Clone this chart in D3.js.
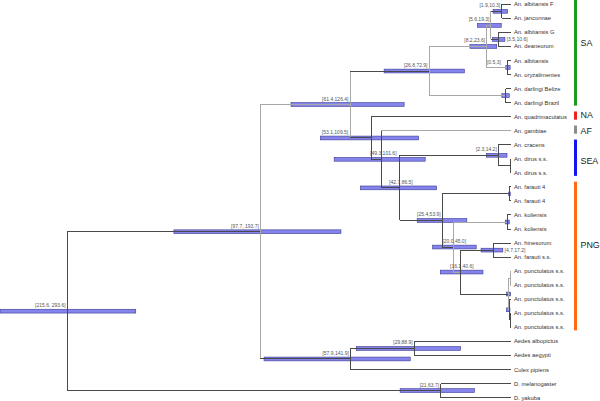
<!DOCTYPE html>
<html><head><meta charset="utf-8">
<script src="https://cdn.jsdelivr.net/npm/d3@7"></script>
<style>html,body{margin:0;padding:0;background:#fff;} svg{display:block;font-family:"Liberation Sans",Arial,sans-serif;}</style>
</head><body><svg id="c" width="600" height="401"></svg>
<script>
// ---- DATA ----
const tipLabels = [
  "An. albitansis F","An. janconnae","An. albitansis G","An. deaneorum","An. albitansis",
  "An. oryzalimentes","An. darlingi Belize","An. darlingi Brazil","An. quadrimaculatus","An. gambiae",
  "An. cracens","An. dirus s.s.","An. dirus s.s.","An. farauti 4","An. farauti 4",
  "An. koliensis","An. koliensis","An. hinesorum","An. farauti s.s.","An. punctulatus s.s.",
  "An. punctulatus s.s.","An. punctulatus s.s.","An. punctulatus s.s.","An. punctulatus s.s.","Aedes albopictus",
  "Aedes aegypti","Culex pipiens","D. melanogaster","D. yakuba"
];
// internal nodes: id, children (node ids or tip indices), age (My), 95% HPD [lo,hi], label
const nodeIds      = ["root","insect","anoph","SA","n82","n56","n19","n35","nalb","darl","n53","n49","n42","SEA","dirus","PNG","far4","n20","kol","n16","n47","punc","p12","p345","p45","culic","aedes","dros"];
const nodeChildren = [["insect","dros"],["anoph","culic"],["SA","n53"],["n82","darl"],["n56","nalb"],["n19","n35"],[0,1],[2,3],[4,5],[6,7],
  [8,"n49"],[9,"n42"],["SEA","PNG"],[10,"dirus"],[11,12],["far4","n20"],[13,14],["kol","n16"],[15,16],["n47","punc"],[17,18],
  ["p12","p345"],[19,20],[21,"p45"],[22,23],["aedes",26],[24,25],[27,28]];
const nodeAges     = [255,144,92.5,47.1,14.0,11.5,5.3,7.3,2.1,3.0,80.3,74.5,63.8,7.3,0.2,39.5,1.0,33.2,2.1,29.1,10.2,1.2,0.3,0.8,0.3,92.3,55.6,40.4];
const nodeHPD      = [[215.6,293.6],[97.7,193.7],[61.4,126.4],[26.8,72.9],[8.2,23.6],[5.6,19.3],[1.9,10.3],[3.5,10.6],[0.5,3],[1.0,5.3],
  [53.1,109.5],[49.3,101.6],[42.7,86.5],[2.3,14.2],null,[25.4,53.9],[0.7,1.3],[20.0,45.0],[1.0,3.3],[16.1,40.6],[4.7,17.2],
  [0.2,2.5],null,[0.6,2.5],null,[57.9,141.9],[29,88.9],[21,63.7]];
const nodeLabels   = ["[215.6, 293.6]","[97.7, 193.7]","[61.4,126.4]","[26.8,72.9]","[8.2,23.6]","[5.6,19.3]","[1.9,10.3]","[3.5,10.6]","[0.5,3]","",
  "[53.1,109.5]","[49.3,101.6]","[42.7,86.5]","[2.3,14.2]","","[25.4,53.9]","","[20.0,45.0]","","[16.1,40.6]","[4.7,17.2]",
  "","","","","[57.9,141.9]","[29,88.9]","[21,63.7]"];
// branches with low posterior support (drawn in light grey)
const lowSupportStems = ["anoph","darl","n82","n56","nalb","t9","kol","n16","p12","p345","t19","t20"];
const lowSupportVerticals = ["insect","anoph","SA","n82","n56","n20","punc","p12"];
// geographic groups
const groupNames   = ["SA","NA","AF","SEA","PNG"];
const groupFirst   = [0,8,9,10,13];
const groupLast    = [7,8,9,12,23];
const groupLabelAt = [2.75,7.9,9,11.15,17.1];
const groupColors  = ["#1e9a1e","#ee2020","#8c8c8c","#1414ee","#ff6a12"];

// ---- LAYOUT ----
const labelPlacement = {
  n53:{anchor:"end",dx:-23}, n49:{anchor:"middle",dx:2}, n42:{anchor:"middle",dx:1},
  n20:{anchor:"middle",dx:1}, n16:{anchor:"middle",dx:1.5}, nalb:{anchor:"end",dx:-6.5},
  n35:{anchor:"right"}, n47:{anchor:"right"}
};
const svg = d3.select("#c");
const x = d3.scaleLinear().domain([293.6, 0]).range([0, 511]);
const y = d3.scaleLinear().domain([0, tipLabels.length - 1]).range([4.3, 397.6]);

const nodes = {};
nodeIds.forEach((id,i)=>{ nodes[id] = {id, children:nodeChildren[i], age:nodeAges[i], hpd:nodeHPD[i], label:nodeLabels[i]}; });
function childKey(c){ return typeof c === "number" ? "t"+c : c; }
function pos(c){
  if (typeof c === "number") return {x:x(0), y:y(c)};
  const n = nodes[c];
  if (n.y === undefined){
    const ys = n.children.map(k=>pos(k).y);
    n.y = (d3.min(ys)+d3.max(ys))/2;
    n.x = x(n.age);
  }
  return {x:n.x, y:n.y};
}
nodeIds.forEach(id=>pos(id));

const DARK = "#4a4a4a", LIGHT = "#a8a8a8";
const gBars = svg.append("g"), gLines = svg.append("g"), gText = svg.append("g");

// HPD bars
const barNodes = nodeIds.map(id=>nodes[id]).filter(n=>n.hpd);
gBars.selectAll("rect").data(barNodes).join("rect")
  .attr("x", d=>x(d.hpd[1])).attr("width", d=>Math.max(1.5, x(d.hpd[0]) - x(d.hpd[1])))
  .attr("y", d=>d.y - 1.9).attr("height", 3.8)
  .attr("fill", "#8484ec").attr("stroke", "#3a3a94").attr("stroke-width", 0.6);

// branches
const segs = [];
nodeIds.forEach(id=>{
  const n = nodes[id];
  const cps = n.children.map(pos);
  segs.push({x1:n.x, x2:n.x, y1:d3.min(cps,p=>p.y), y2:d3.max(cps,p=>p.y), low: lowSupportVerticals.includes(id)});
  n.children.forEach((c,i)=>{
    segs.push({x1:n.x, x2:cps[i].x, y1:cps[i].y, y2:cps[i].y, low: lowSupportStems.includes(childKey(c))});
  });
});
gLines.selectAll("line").data(segs).join("line")
  .attr("x1",d=>d.x1).attr("x2",d=>d.x2).attr("y1",d=>d.y1).attr("y2",d=>d.y2)
  .attr("stroke", d=>d.low?LIGHT:DARK).attr("stroke-width",1).attr("shape-rendering","crispEdges");

// tip labels
gText.selectAll("text.tip").data(tipLabels).join("text").attr("class","tip")
  .attr("x", x(0)+3).attr("y",(d,i)=>y(i)).attr("dy","0.35em")
  .attr("font-size",5.8).attr("fill","#333").text(d=>d);

// node HPD labels
const labNodes = nodeIds.map(id=>nodes[id]).filter(n=>n.label);
gText.selectAll("text.nl").data(labNodes).join("text").attr("class","nl")
  .each(function(d){
    const p = labelPlacement[d.id] || {anchor:"end", dx:-1.5};
    const t = d3.select(this);
    if (p.anchor === "right"){
      t.attr("x", x(d.hpd[0]) + 1.8).attr("y", d.y).attr("dy","0.35em").attr("text-anchor","start");
    } else {
      t.attr("x", d.x + p.dx).attr("y", d.y - 4).attr("text-anchor", p.anchor);
    }
  })
  .attr("font-size",5).attr("fill","#555").text(d=>d.label);

// group bars
const gG = svg.append("g");
gG.selectAll("rect").data(groupNames).join("rect")
  .attr("x",574).attr("width",3)
  .attr("y",(d,i)=>Math.max(0, y(groupFirst[i]) - 5.2))
  .attr("height",(d,i)=>y(groupLast[i]) + 3 - Math.max(0, y(groupFirst[i]) - 5.2))
  .attr("fill",(d,i)=>groupColors[i]);
gG.selectAll("text").data(groupNames).join("text")
  .attr("x",580.5).attr("y",(d,i)=>y(groupLabelAt[i])).attr("dy","0.35em")
  .attr("font-size",8.9).attr("fill","#222").text(d=>d);
</script></body></html>
